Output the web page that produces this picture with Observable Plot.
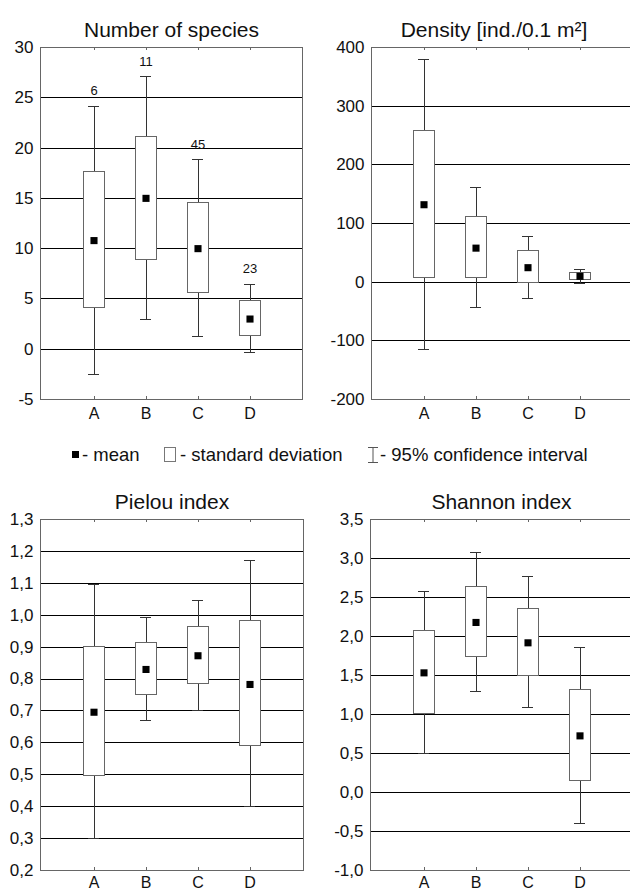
<!DOCTYPE html>
<html>
<head>
<meta charset="utf-8">
<script src="https://cdn.jsdelivr.net/npm/d3@7"></script>
<script src="https://cdn.jsdelivr.net/npm/@observablehq/plot@0.6"></script>
<style>
  html, body { margin: 0; padding: 0; background: #fff; overflow: hidden; width: 630px; height: 892px; }
  body { position: relative; font-family: "Liberation Sans", Arial, sans-serif; }
  .panel { position: absolute; }
  #legend { position: absolute; top: 445px; left: 0; width: 630px; height: 20px; font-size: 18.5px; line-height: 20px; color: #111; }
  #legend span { position: absolute; white-space: nowrap; }
</style>
</head>
<body>
<div id="p1" class="panel" style="left:0;top:0"></div>
<div id="p2" class="panel" style="left:315px;top:0"></div>
<div id="legend">
  <span style="left:72px;top:6px;width:7px;height:7px;background:#000"></span>
  <span style="left:82px;top:0">- mean</span>
  <span style="left:164px;top:2px;width:12px;height:15px;border:1px solid #777;box-sizing:border-box;background:#fff"></span>
  <span style="left:180px;top:0">- standard deviation</span>
  <span style="left:367px;top:2px;width:12px;height:16px"><svg width="12" height="16"><line x1="1" y1="0.5" x2="11" y2="0.5" stroke="#555"/><line x1="1" y1="15.5" x2="11" y2="15.5" stroke="#555"/><line x1="6" y1="0" x2="6" y2="16" stroke="#555"/></svg></span>
  <span style="left:380px;top:0">- 95% confidence interval</span>
</div>
<div id="p3" class="panel" style="left:0;top:472px"></div>
<div id="p4" class="panel" style="left:315px;top:472px"></div>
<script>
// ---- data ----
const groups = ["A", "B", "C", "D"];

const speciesMean   = [10.8, 15.0, 10.0, 3.0];
const speciesSdLow  = [4.05, 8.9, 5.6, 1.33];
const speciesSdHigh = [17.6, 21.15, 14.56, 4.78];
const speciesCiLow  = [-2.48, 2.95, 1.27, -0.33];
const speciesCiHigh = [24.17, 27.1, 18.86, 6.47];
const speciesN      = ["6", "11", "45", "23"];
const speciesTicks  = [-5, 0, 5, 10, 15, 20, 25, 30];

const densityMean   = [132, 58, 24.7, 10];
const densitySdLow  = [6.4, 6.4, -2, 4.2];
const densitySdHigh = [258.4, 111, 52.5, 15.5];
const densityCiLow  = [-115, -43.5, -27.7, -1.5];
const densityCiHigh = [380, 162, 78.6, 21.3];
const densityTicks  = [-200, -100, 0, 100, 200, 300, 400];

const pielouMean   = [0.696, 0.830, 0.873, 0.783];
const pielouSdLow  = [0.496, 0.750, 0.785, 0.590];
const pielouSdHigh = [0.901, 0.912, 0.962, 0.981];
const pielouCiLow  = [0.300, 0.671, 0.701, 0.401];
const pielouCiHigh = [1.097, 0.993, 1.046, 1.171];
const pielouTicks  = [0.2, 0.3, 0.4, 0.5, 0.6, 0.7, 0.8, 0.9, 1.0, 1.1, 1.2, 1.3];

const shannonMean   = [1.534, 2.18, 1.919, 0.726];
const shannonSdLow  = [1.009, 1.731, 1.496, 0.15];
const shannonSdHigh = [2.068, 2.641, 2.355, 1.308];
const shannonCiLow  = [0.5, 1.299, 1.085, -0.402];
const shannonCiHigh = [2.58, 3.077, 2.769, 1.859];
const shannonTicks  = [-1.0, -0.5, 0.0, 0.5, 1.0, 1.5, 2.0, 2.5, 3.0, 3.5];

// ---- drawing ----
const FONT = "Liberation Sans, Arial, Helvetica, sans-serif";
const comma1 = d => d.toFixed(1).replace(".", ",");
const intFmt = d => String(d);
const crisp = "crispEdges";

function panel(o) {
  const rows = groups.map((g, i) => ({
    g, mean: o.mean[i], sdLow: o.sdLow[i], sdHigh: o.sdHigh[i],
    ciLow: o.ciLow[i], ciHigh: o.ciHigh[i], n: o.n ? o.n[i] : null
  }));
  const dom = [o.ticks[0], o.ticks[o.ticks.length - 1]];
  const grid = o.ticks.slice(1, -1);
  const marks = [
    Plot.ruleY(grid, {stroke: "#000", strokeWidth: 1, shapeRendering: crisp}),
    Plot.ruleX(rows, {x: "g", y1: "ciLow", y2: "ciHigh", stroke: "#333", shapeRendering: crisp}),
    Plot.tickY(rows, {x: "g", y: "ciLow", insetLeft: 5, insetRight: 5, stroke: "#333", shapeRendering: crisp}),
    Plot.tickY(rows, {x: "g", y: "ciHigh", insetLeft: 5, insetRight: 5, stroke: "#333", shapeRendering: crisp}),
    Plot.barY(rows, {x: "g", y1: "sdLow", y2: "sdHigh", fill: "#fff", stroke: "#666", strokeWidth: 1, shapeRendering: crisp}),
    Plot.dot(rows, {x: "g", y: "mean", symbol: "square", r: 4, fill: "#000", stroke: null}),
    Plot.ruleX(groups, {x: d => d, y1: dom[0], y2: dom[0], insetTop: -3, stroke: "#666", shapeRendering: crisp}),
    Plot.ruleX(groups, {x: d => d, y1: dom[1], y2: dom[1], insetBottom: -3, stroke: "#666", shapeRendering: crisp}),
    Plot.frame({stroke: "#666", shapeRendering: crisp}),
    Plot.axisY({ticks: o.ticks, tickSize: 0, tickPadding: 7, tickFormat: o.fmt, label: null, fontSize: 17}),
    Plot.axisX({tickSize: 0, tickPadding: o.xpad, label: null, fontSize: 16}),
    Plot.text([o.title], {text: d => d, frameAnchor: "top", dy: -25, dx: o.titleDx || 0, fontSize: 21, fill: "#111"})
  ];
  if (o.n) {
    marks.push(Plot.text(rows, {x: "g", y: "ciHigh", text: "n", dy: -15, fontSize: 13, fill: "#111"}));
  }
  const chart = Plot.plot({
    width: o.width, height: o.height,
    marginLeft: o.ml, marginRight: o.mr, marginTop: o.mt, marginBottom: o.mb,
    x: {type: "band", domain: groups, paddingInner: 0.6, paddingOuter: 0.8, axis: null},
    y: {domain: dom, axis: null},
    style: {fontFamily: FONT, fontSize: "17px", color: "#111", background: "transparent", maxWidth: "none", overflow: "visible"},
    marks
  });
  document.getElementById(o.id).appendChild(chart);
}

panel({id: "p1", title: "Number of species", mean: speciesMean, sdLow: speciesSdLow, sdHigh: speciesSdHigh,
  ciLow: speciesCiLow, ciHigh: speciesCiHigh, n: speciesN, ticks: speciesTicks, fmt: intFmt, xpad: 8,
  width: 310, height: 430, ml: 40, mr: 8, mt: 47, mb: 31});
panel({id: "p2", title: "Density [ind./0.1 m²]", mean: densityMean, sdLow: densitySdLow, sdHigh: densitySdHigh,
  ciLow: densityCiLow, ciHigh: densityCiHigh, ticks: densityTicks, fmt: intFmt, titleDx: -8, xpad: 8,
  width: 320, height: 430, ml: 56, mr: 3, mt: 47, mb: 31});
panel({id: "p3", title: "Pielou index", mean: pielouMean, sdLow: pielouSdLow, sdHigh: pielouSdHigh,
  ciLow: pielouCiLow, ciHigh: pielouCiHigh, ticks: pielouTicks, fmt: comma1, xpad: 6,
  width: 310, height: 420, ml: 40, mr: 7, mt: 47, mb: 22});
panel({id: "p4", title: "Shannon index", mean: shannonMean, sdLow: shannonSdLow, sdHigh: shannonSdHigh,
  ciLow: shannonCiLow, ciHigh: shannonCiHigh, ticks: shannonTicks, fmt: comma1, xpad: 6,
  width: 320, height: 420, ml: 55, mr: 3, mt: 47, mb: 22});
</script>
</body>
</html>
